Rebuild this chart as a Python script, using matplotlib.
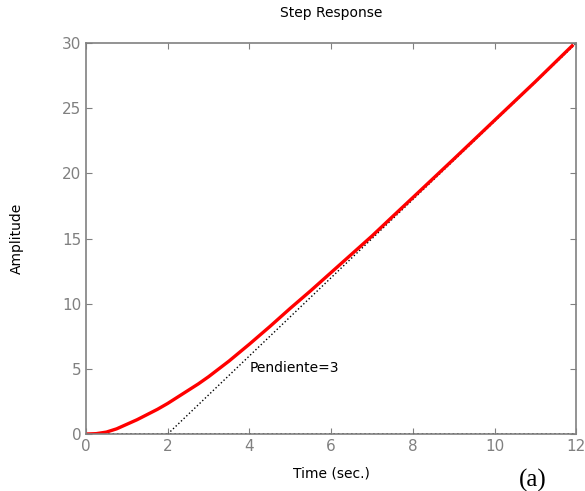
import matplotlib.pyplot as plt

# respuesta
t = [0, 0.25, 0.5, 0.75, 1, 1.25, 1.5, 1.75, 2, 2.25, 2.5, 2.75, 3, 3.5, 4, 4.5,
     5, 5.5, 6, 6.5, 7, 7.5, 8, 9, 10, 11, 11.9]
y = [0, 0.03, 0.15, 0.4, 0.75, 1.1, 1.5, 1.9, 2.35, 2.85, 3.35, 3.85, 4.4, 5.6, 6.9,
     8.25, 9.65, 11.0, 12.4, 13.8, 15.2, 16.68, 18.15, 21.1, 24.08, 27.05, 29.8]

# asintota de pendiente 3
t_asin = [2.0, 12]
y_asin = [0, 30]

gris = "#808080"

fig = plt.figure(figsize=(5.85, 4.91), dpi=100)
ax = fig.add_axes([0.147, 0.116, 0.838, 0.796])

ax.plot([0, 12], [0, 0], color="black", linestyle=":", linewidth=1.2)
ax.plot(t_asin, y_asin, color="black", linestyle=":", linewidth=1.0)
ax.plot(t, y, color="red", linewidth=2.4)

ax.text(4.0, 5.05, "Pendiente=3", fontsize=10, va="center", ha="left")

ax.set_xlim(0, 12)
ax.set_ylim(0, 30)
ax.set_xticks([0, 2, 4, 6, 8, 10, 12])
ax.set_yticks([0, 5, 10, 15, 20, 25, 30])
ax.tick_params(direction="in", top=True, right=True, colors=gris,
               labelsize=11, length=4)
for s in ax.spines.values():
    s.set_color(gris)
    s.set_linewidth(1.2)

ax.set_title("Step Response", fontsize=10, pad=19)
ax.set_xlabel("Time (sec.)", fontsize=10, labelpad=9)
ax.set_ylabel("Amplitude", fontsize=10, labelpad=27)

fig.text(0.91, 0.01, "(a)", fontsize=18, family="Liberation Serif", ha="center")

fig.savefig("out.png", dpi=100)
